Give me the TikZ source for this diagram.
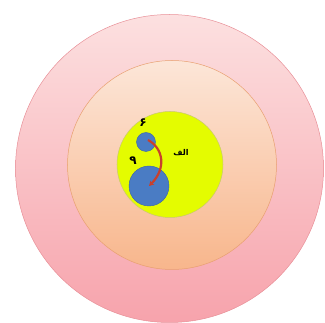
\documentclass[tikz,border=0pt]{standalone}
\usepackage{fontspec}
\newfontfamily\arabicfont[Script=Arabic]{DejaVu Sans}
\TeXXeTstate=1
\definecolor{outerTop}{HTML}{FCE0E0}
\definecolor{outerBot}{HTML}{F7A3AC}
\definecolor{outerLine}{HTML}{E89098}
\definecolor{midTop}{HTML}{FCE6D8}
\definecolor{midBot}{HTML}{F8B68C}
\definecolor{midLine}{HTML}{E8A070}
\definecolor{yel}{HTML}{E4FC00}
\definecolor{yelLine}{HTML}{C8C870}
\definecolor{blu}{HTML}{4A7CC4}
\definecolor{bluLine}{HTML}{3A66A8}
\definecolor{arr}{HTML}{C8402C}
\usetikzlibrary{arrows.meta}
\tikzset{lbl/.style={font=\arabicfont\bfseries\large, inner sep=0pt}}
\begin{document}
\begin{tikzpicture}[x=1pt,y=-1pt]
\useasboundingbox (0,0) rectangle (325,323);
\coordinate (oc) at (169.5,168.5);
\coordinate (mc) at (172,165);
\coordinate (yc) at (170,164.5);
\shade[top color=outerTop, bottom color=outerBot] (oc) circle (154);
\draw[outerLine, line width=0.5pt] (oc) circle (154);
\shade[top color=midTop, bottom color=midBot] (mc) circle (104.5);
\draw[midLine, line width=0.5pt] (mc) circle (104.5);
\fill[yel] (yc) circle (53);
\draw[yelLine, line width=0.5pt] (yc) circle (53);
\node[circle, fill=blu, draw=bluLine, line width=0.4pt, minimum size=19pt, inner sep=0pt] (s) at (146,142) {};
\node[circle, fill=blu, draw=bluLine, line width=0.4pt, minimum size=40pt, inner sep=0pt] (b) at (149,186) {};
\draw[arr, line width=2.2pt, -{Stealth[length=5pt,width=5.5pt]}] (s.center) ++(2,-2) .. controls (163,148) and (167,168) .. (b.center);
\node[lbl] (six) at (143,123) {\beginR ۶\endR};
\node[lbl] (nine) at (133,161) {\beginR ۹\endR};
\node[lbl, font=\arabicfont\bfseries\footnotesize] (alef) at (181,153) {\beginR الف\endR};
\end{tikzpicture}
\end{document}
